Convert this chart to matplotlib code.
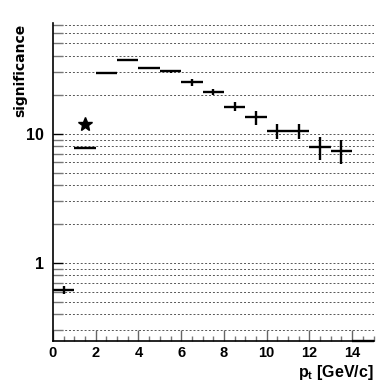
import matplotlib
matplotlib.use("Agg")
import matplotlib.pyplot as plt
from matplotlib.ticker import FixedLocator, FixedFormatter, NullFormatter

# ---- data ----
bin_centers = [0.5, 1.5, 2.5, 3.5, 4.5, 5.5, 6.5, 7.5, 8.5, 9.5, 10.5, 11.5, 12.5, 13.5, 14.5]
bin_halfwidth = [0.5] * 15
significance = [0.616, 7.71, 29.4, 37.3, 32.4, 30.5, 25.0, 21.0, 16.2, 13.4, 10.5, 10.5, 7.85, 7.4, 0.25]
sig_err = [0.045, 0.1, 0.25, 0.3, 0.3, 0.8, 1.4, 1.15, 1.3, 1.65, 1.45, 1.45, 1.6, 1.6, 0.0]
star_x = [1.5]
star_y = [12.0]

x_major = [0, 2, 4, 6, 8, 10, 12, 14]
x_labels = ["0", "2", "4", "6", "8", "10", "12", "14"]
y_major = [1, 10]
y_labels = ["1", "10"]
y_minor = [0.3, 0.4, 0.5, 0.6, 0.7, 0.8, 0.9, 2, 3, 4, 5, 6, 7, 8, 9,
           20, 30, 40, 50, 60, 70]

plt.rcParams['font.family'] = ['Liberation Sans', 'DejaVu Sans']
plt.rcParams['font.weight'] = 'bold'
plt.rcParams['mathtext.fontset'] = 'custom'
plt.rcParams['mathtext.rm'] = 'Liberation Sans:bold'
plt.rcParams['mathtext.it'] = 'Liberation Sans:bold'
plt.rcParams['mathtext.bf'] = 'Liberation Sans:bold'

fig = plt.figure(figsize=(3.90, 3.88), dpi=100)
ax = fig.add_axes([53/390, 1 - 340.7/388, 320.5/390, (340.7 - 23)/388])

ax.set_yscale('log')
ax.set_xlim(0, 15)
ax.set_ylim(0.25, 72)

# grid lines (dotted) at all y ticks
for v in y_major + y_minor:
    ax.axhline(v, color='#555555', lw=0.7, ls=(0, (2.0, 2.0)), zorder=1)

ax.errorbar(bin_centers, significance, xerr=bin_halfwidth, yerr=sig_err,
            fmt='none', ecolor='black', elinewidth=1.7, capsize=0,
            zorder=3, clip_on=False)
ax.plot(star_x, star_y, marker='*', ms=10, color='black', ls='none', zorder=4)

for s in ['top', 'right']:
    ax.spines[s].set_visible(False)
for s in ['left', 'bottom']:
    ax.spines[s].set_linewidth(1.2)
    ax.spines[s].set_zorder(5)

ax.xaxis.set_major_locator(FixedLocator(x_major))
ax.xaxis.set_major_formatter(FixedFormatter(x_labels))
ax.xaxis.set_minor_locator(FixedLocator([i * 0.5 for i in range(31)]))
ax.yaxis.set_major_locator(FixedLocator(y_major))
ax.yaxis.set_major_formatter(FixedFormatter(y_labels))
ax.yaxis.set_minor_locator(FixedLocator(y_minor))
ax.yaxis.set_minor_formatter(NullFormatter())

ax.tick_params(axis='x', which='major', direction='in', length=8, width=1,
               color='#666666', labelsize=10.5, pad=4)
ax.tick_params(axis='x', which='minor', direction='in', length=3.8, width=1,
               color='#777777')
ax.tick_params(axis='y', which='major', direction='in', length=7.5, width=1,
               color='black', labelsize=11.5, pad=6.5)
ax.tick_params(axis='y', which='minor', direction='in', length=7.5, width=1,
               color='#777777')
for lab in ax.get_xticklabels() + ax.get_yticklabels():
    lab.set_fontweight('bold')

fig.text(20/390, 1 - 23.5/388, 'significance', rotation=90, ha='center', va='top',
         fontsize=10, fontweight='bold', family=['DejaVu Sans'])
fig.text(373.5/390, 1 - 377/388, r'p$_{\rm t}$ [GeV/c]', ha='right', va='baseline',
         fontsize=11.5, fontweight='bold')

fig.savefig('out.png', dpi=100)
